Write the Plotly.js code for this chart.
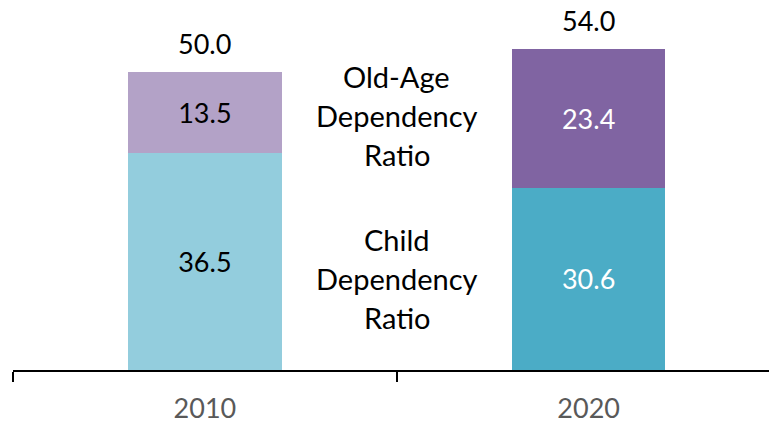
<!DOCTYPE html>
<html>
<head>
<meta charset="utf-8">
<script src="https://cdn.plot.ly/plotly-3.0.1.min.js"></script>
<style>
  html, body { margin: 0; padding: 0; background: #FFFFFF; }
  #chart { width: 769px; height: 425px; }
</style>
</head>
<body>
<div id="chart"></div>
<script>
// Dependency ratios by year
const years = ['2010', '2020'];
const childRatio = [36.5, 30.6];
const oldAgeRatio = [13.5, 23.4];
const totalRatio = [50.0, 54.0];

const childColors = ['#93CDDD', '#4BACC6'];
const oldColors = ['#B3A2C7', '#8064A2'];
const labelColors = ['#000000', '#FFFFFF'];

const FONT = 'Lato, "Open Sans", sans-serif';

const childTrace = {
    x: years,
    y: childRatio,
    type: 'bar',
    name: 'Child Dependency Ratio',
    marker: { color: childColors },
    text: childRatio.map(v => v.toFixed(1)),
    textposition: 'inside',
    insidetextanchor: 'middle',
    textfont: { family: FONT, size: 27, color: labelColors },
    hoverinfo: 'skip'
};

const oldTrace = {
    x: years,
    y: oldAgeRatio,
    type: 'bar',
    name: 'Old-Age Dependency Ratio',
    marker: { color: oldColors },
    text: oldAgeRatio.map(v => v.toFixed(1)),
    textposition: 'inside',
    insidetextanchor: 'middle',
    textfont: { family: FONT, size: 27, color: labelColors },
    hoverinfo: 'skip'
};

// Totals above each stack (category index positions)
const totalNotes = years.map((yr, i) => ({
    x: i,
    y: totalRatio[i],
    text: totalRatio[i].toFixed(1),
    showarrow: false,
    yanchor: 'bottom',
    yshift: 10,
    font: { family: FONT, size: 27, color: '#000000' }
}));

// Series labels between the bars, one annotation per line
const LINE_GAP = 39;
const seriesNotes = [];
[
    { lines: ['Old-Age', 'Dependency', 'Ratio'], y: 42.7 },
    { lines: ['Child', 'Dependency', 'Ratio'], y: 15.3 }
].forEach(n => {
    n.lines.forEach((line, k) => {
        seriesNotes.push({
            x: 0.5,
            y: n.y,
            text: line,
            showarrow: false,
            yanchor: 'middle',
            xanchor: 'center',
            yshift: (1 - k) * LINE_GAP,
            font: { family: FONT, size: 29, color: '#000000' }
        });
    });
});

const layout = {
    width: 769,
    height: 425,
    barmode: 'stack',
    bargap: 0.6,
    showlegend: false,
    plot_bgcolor: '#FFFFFF',
    paper_bgcolor: '#FFFFFF',
    margin: { l: 13, r: 0, t: 10, b: 55 },
    font: { family: FONT },
    xaxis: {
        type: 'category',
        range: [-0.5, 1.47],
        showline: true,
        linecolor: '#000000',
        linewidth: 1.5,
        ticks: 'outside',
        tickson: 'boundaries',
        ticklen: 10,
        tickcolor: '#000000',
        tickwidth: 1.5,
        ticklabelstandoff: 14,
        tickfont: { family: FONT, size: 27, color: '#595959' },
        showgrid: false,
        zeroline: false
    },
    yaxis: {
        range: [0, 60.5],
        visible: false,
        showgrid: false,
        zeroline: false
    },
    annotations: totalNotes.concat(seriesNotes)
};

const config = { displayModeBar: false, staticPlot: true };

Plotly.newPlot('chart', [childTrace, oldTrace], layout, config);
</script>
</body>
</html>
